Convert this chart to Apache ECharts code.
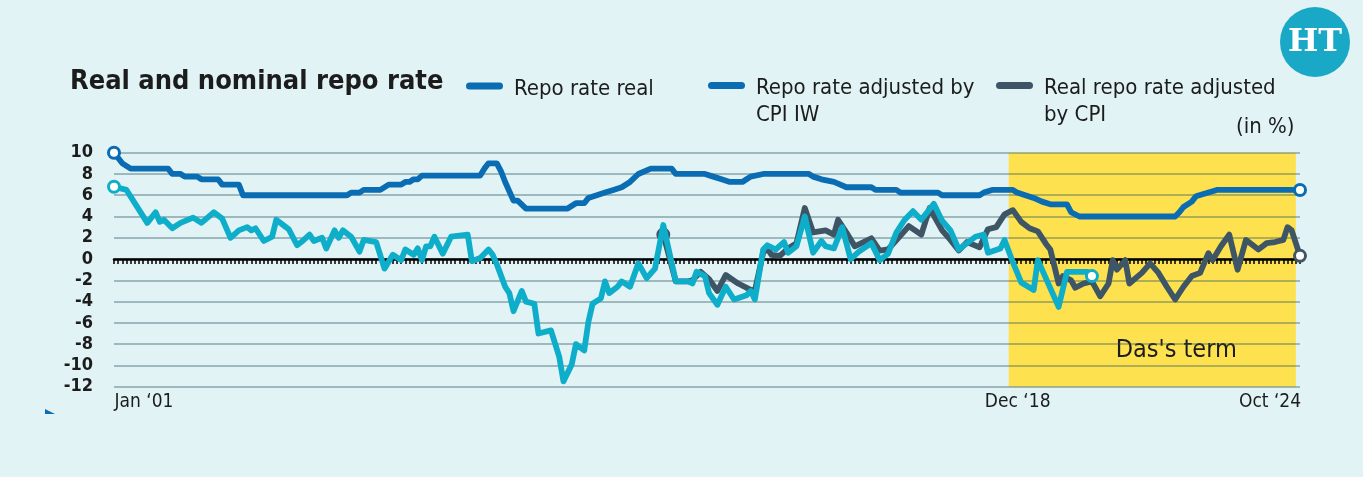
<!DOCTYPE html>
<html>
<head>
<meta charset="utf-8">
<script src="https://cdn.jsdelivr.net/npm/echarts@6/dist/echarts.min.js"></script>
<style>
html,body{margin:0;padding:0;background:#e1f3f5;}
#c{width:1363px;height:477px;}
</style>
</head>
<body>
<div id="c"></div>
<script>
// ---------- DATA ----------
const seriesNames = ['Repo rate real', 'Repo rate adjusted by\nCPI IW', 'Real repo rate adjusted\nby CPI'];

// Nominal repo rate (%), vertices
const repoRate = [
  ['2001-01',10],['2001-03',9],['2001-05',8.5],['2002-02',8.5],['2002-03',8],['2002-05',8],
  ['2002-06',7.75],['2002-09',7.75],['2002-10',7.5],['2003-02',7.5],['2003-03',7],['2003-07',7],
  ['2003-08',6],['2005-09',6],['2005-10',6.25],['2005-12',6.25],['2006-01',6.5],['2006-05',6.5],
  ['2006-07',7],['2006-10',7],['2006-11',7.25],['2006-12',7.25],['2007-01',7.5],['2007-02',7.5],
  ['2007-03',7.85],['2008-05',7.85],['2008-06',8.5],['2008-07',9],['2008-09',9],['2008-10',8.25],
  ['2008-11',7.25],['2009-01',5.5],['2009-02',5.5],['2009-04',4.75],['2010-02',4.75],['2010-04',5.25],
  ['2010-06',5.25],['2010-07',5.75],['2010-09',6],['2010-11',6.25],['2011-01',6.5],['2011-03',6.75],
  ['2011-05',7.25],['2011-07',8],['2011-10',8.5],['2012-03',8.5],['2012-04',8],['2012-11',8],
  ['2013-01',7.75],['2013-03',7.5],['2013-05',7.25],['2013-08',7.25],['2013-09',7.5],['2013-10',7.75],
  ['2014-01',8],['2014-12',8],['2015-01',7.75],['2015-03',7.5],['2015-06',7.25],['2015-09',6.75],
  ['2016-03',6.75],['2016-04',6.5],['2016-09',6.5],['2016-10',6.25],['2017-07',6.25],['2017-08',6],
  ['2018-05',6],['2018-06',6.25],['2018-08',6.5],['2019-01',6.5],['2019-02',6.25],['2019-04',6],
  ['2019-06',5.75],['2019-08',5.4],['2019-10',5.15],['2020-02',5.15],['2020-03',4.4],['2020-05',4],
  ['2022-04',4],['2022-05',4.4],['2022-06',4.9],['2022-08',5.4],['2022-09',5.9],['2022-12',6.25],
  ['2023-02',6.5],['2024-10',6.5]
];

// Repo rate adjusted by CPI-IW (%)
const realCpiIw = [
  ['2001-01',6.8],['2001-04',6.5],['2001-09',3.4],['2001-11',4.4],['2001-12',3.5],['2002-01',3.7],
  ['2002-03',2.9],['2002-05',3.4],['2002-08',3.9],['2002-10',3.4],['2003-01',4.4],['2003-03',3.8],
  ['2003-05',2.0],['2003-07',2.7],['2003-09',3.0],['2003-10',2.7],['2003-11',2.9],['2004-01',1.7],
  ['2004-03',2.1],['2004-04',3.7],['2004-06',3.1],['2004-07',2.8],['2004-09',1.3],['2004-10',1.6],
  ['2004-12',2.3],['2005-01',1.7],['2005-03',2.0],['2005-04',1.0],['2005-06',2.7],['2005-07',2.0],
  ['2005-08',2.7],['2005-10',2.1],['2005-12',0.7],['2006-01',1.8],['2006-04',1.6],['2006-06',-0.9],
  ['2006-08',0.4],['2006-10',-0.1],['2006-11',0.9],['2007-01',0.4],['2007-02',1.0],['2007-03',-0.1],
  ['2007-04',1.2],['2007-05',1.2],['2007-06',2.1],['2007-08',0.5],['2007-10',2.1],['2008-02',2.3],
  ['2008-03',-0.2],['2008-05',0.1],['2008-07',0.9],['2008-08',0.4],['2008-09',-0.5],['2008-11',-2.6],
  ['2008-12',-3.2],['2009-01',-4.9],['2009-03',-3.0],['2009-04',-4.0],['2009-06',-4.2],['2009-07',-7.0],
  ['2009-10',-6.7],['2009-12',-9.2],['2010-01',-11.5],['2010-03',-9.9],['2010-04',-8.0],['2010-06',-8.6],
  ['2010-07',-5.9],['2010-08',-4.2],['2010-10',-3.7],['2010-11',-2.1],['2010-12',-3.2],['2011-02',-2.6],
  ['2011-03',-2.1],['2011-05',-2.6],['2011-06',-1.5],['2011-07',-0.4],['2011-09',-1.8],['2011-11',-0.9],
  ['2012-01',3.2],['2012-04',-2.1],['2012-07',-2.1],['2012-08',-2.3],['2012-09',-1.2],['2012-11',-1.6],
  ['2012-12',-3.2],['2013-02',-4.3],['2013-04',-2.6],['2013-06',-3.8],['2013-09',-3.4],['2013-10',-3.0],
  ['2013-11',-3.8],['2014-01',0.9],['2014-02',1.3],['2014-04',0.9],['2014-06',1.6],['2014-07',0.6],
  ['2014-09',1.2],['2014-11',4.0],['2015-01',0.6],['2015-03',1.7],['2015-04',1.2],['2015-06',1.0],
  ['2015-08',3.0],['2015-10',0.0],['2015-12',0.7],['2016-03',1.5],['2016-05',-0.1],['2016-07',0.5],
  ['2016-09',2.5],['2016-11',3.7],['2017-01',4.5],['2017-03',3.7],['2017-06',5.2],['2017-08',3.6],
  ['2017-10',2.7],['2017-12',0.9],['2018-04',2.1],['2018-06',2.3],['2018-07',0.6],['2018-10',1.0],
  ['2018-11',1.8],['2019-01',-0.3],['2019-03',-2.2],['2019-06',-2.9],['2019-07',-0.1],['2019-12',-4.5],
  ['2020-02',-1.2],['2020-07',-1.2],['2020-08',-1.6]
];

// Real repo rate adjusted by CPI (%)
const realCpi = [
  ['2012-01',2.3],['2012-04',-2.1],['2012-07',-2.1],['2012-08',-2.0],['2012-10',-1.2],['2012-12',-1.9],
  ['2013-02',-3.0],['2013-04',-1.5],['2013-07',-2.3],['2013-10',-2.9],['2013-11',-3.0],['2014-01',0.6],
  ['2014-02',1.0],['2014-03',0.4],['2014-05',0.3],['2014-07',1.0],['2014-09',1.5],['2014-11',4.8],
  ['2015-01',2.5],['2015-04',2.7],['2015-06',2.3],['2015-07',3.7],['2015-09',2.5],['2015-11',1.2],
  ['2016-03',1.95],['2016-05',0.8],['2016-07',0.9],['2016-10',2.2],['2016-12',3.1],['2017-03',2.3],
  ['2017-05',4.8],['2017-08',2.7],['2017-10',1.8],['2017-12',0.8],['2018-02',1.6],['2018-05',1.1],
  ['2018-07',2.8],['2018-09',3.0],['2018-11',4.2],['2019-01',4.6],['2019-03',3.5],['2019-05',2.9],
  ['2019-07',2.6],['2019-09',1.4],['2019-10',0.9],['2019-11',-0.7],['2019-12',-2.3],['2020-01',-1.6],
  ['2020-03',-2.0],['2020-04',-2.7],['2020-06',-2.3],['2020-08',-2.1],['2020-10',-3.5],['2020-12',-2.3],
  ['2021-01',-0.1],['2021-02',-1.0],['2021-04',-0.1],['2021-05',-2.3],['2021-08',-1.3],['2021-10',-0.4],
  ['2021-12',-1.3],['2022-02',-2.6],['2022-04',-3.8],['2022-06',-2.6],['2022-08',-1.6],['2022-10',-1.3],
  ['2022-12',0.55],['2023-01',-0.1],['2023-03',1.2],['2023-05',2.3],['2023-07',-1.0],['2023-09',1.8],
  ['2023-12',0.9],['2024-02',1.5],['2024-04',1.6],['2024-06',1.8],['2024-07',3.0],['2024-08',2.7],
  ['2024-10',0.3]
];

const xTickLabels = [['2001-01','Jan \u201801'],['2018-12','Dec \u201818'],['2024-10','Oct \u201824']];
const yMin = -12, yMax = 10, yStep = 2;
const dasTerm = ['2018-12', '2024-09'];
const firstMonth = [2001, 1], lastMonth = [2024, 10];

// ---------- STYLE ----------
const BLUE = '#0a6db3', CYAN = '#0eaecb', DARK = '#3e5565', YELLOW = '#fee14f', INK = '#1c1c1c';
const FONT = "'DejaVu Sans Condensed','Liberation Sans Narrow',sans-serif";

// month categories 'YYYY-MM'
const months = [];
for (let y = firstMonth[0], m = firstMonth[1]; y < lastMonth[0] || (y === lastMonth[0] && m <= lastMonth[1]); ) {
  months.push(y + '-' + String(m).padStart(2, '0'));
  m++; if (m > 12) { m = 1; y++; }
}

function withEnds(data, color) {
  return data.map((d, i) => (i === 0 || i === data.length - 1)
    ? { value: d, symbol: 'circle', symbolSize: 11, itemStyle: { color: '#fff', borderColor: color, borderWidth: 3 } }
    : d);
}

const capsule = 'path://M3.5,0 L33.5,0 A3.5,3.5 0 0 1 33.5,7 L3.5,7 A3.5,3.5 0 0 1 3.5,0 Z';
function legendAt(left, top, name, color, twoLine) {
  return {
    left: left, top: top, padding: 0, selectedMode: false, icon: capsule,
    itemWidth: 37, itemHeight: 7,
    data: [{ name: name, itemStyle: { color: color } }],
    formatter: n => '{' + (twoLine ? 'g2' : 'g1') + '| }\n' + n.split('\n').map(s => '{t|' + s + '}').join('\n'),
    textStyle: {
      fontFamily: FONT, fontSize: 22, color: INK,
      rich: {
        g1: { fontSize: 2, lineHeight: 6 },
        g2: { fontSize: 2, lineHeight: 33 },
        t: { fontFamily: FONT, fontSize: 22, lineHeight: 27, color: INK, padding: [0, 0, 0, 6] }
      }
    }
  };
}

const labelKeys = ['a', 'b', 'c'];
const labelIndex = v => xTickLabels.findIndex(d => d[0] === v);

const chart = echarts.init(document.getElementById('c'), null, { renderer: 'canvas' });
chart.setOption({
  backgroundColor: '#e1f3f5',
  animation: false,
  title: {
    text: 'Real and nominal repo rate', left: 70, top: 68, padding: 0,
    textStyle: { fontFamily: FONT, fontSize: 27, fontWeight: 'bold', color: INK }
  },
  legend: [
    legendAt(466, 71.5, seriesNames[0], BLUE, false),
    legendAt(708, 57.5, seriesNames[1], BLUE, true),
    legendAt(996, 57.5, seriesNames[2], DARK, true)
  ],
  grid: { left: 114, right: 63, top: 152.7, bottom: 90.3, containLabel: false },
  xAxis: [
    {
      type: 'category', data: months, boundaryGap: false, z: 2,
      axisLine: { show: false, onZero: false }, axisTick: { show: false }, splitLine: { show: false },
      axisLabel: {
        interval: (idx, v) => labelIndex(v) >= 0,
        margin: 6, fontFamily: FONT, fontSize: 19, color: INK,
        formatter: v => {
          const i = labelIndex(v);
          return i < 0 ? '' : '{' + labelKeys[i] + '|' + xTickLabels[i][1] + '}';
        },
        rich: {
          a: { fontFamily: FONT, fontSize: 19, color: INK, padding: [0, 0, 0, 60] },
          b: { fontFamily: FONT, fontSize: 19, color: INK, padding: [0, 0, 0, 18] },
          c: { fontFamily: FONT, fontSize: 19, color: INK, padding: [0, 60, 0, 0] }
        }
      }
    },
    {
      type: 'category', data: months, boundaryGap: false, position: 'bottom', z: 2,
      axisLine: { show: true, onZero: true, lineStyle: { color: '#000', width: 2.5 } },
      axisTick: { show: true, interval: 0, length: 5, lineStyle: { color: '#000', width: 1.5 } },
      axisLabel: { show: false }, splitLine: { show: false }
    }
  ],
  yAxis: {
    type: 'value', min: yMin, max: yMax, interval: yStep, z: 2,
    axisLine: { show: false }, axisTick: { show: false },
    axisLabel: { margin: 21, fontFamily: FONT, fontSize: 18, fontWeight: 'bold', color: INK },
    splitLine: { show: true, lineStyle: { color: 'rgba(40,82,94,0.36)', width: 2 } }
  },
  graphic: [
    { type: 'text', left: 1236, top: 116, style: { text: '(in %)', fontFamily: FONT, fontSize: 22, fill: INK } },
    { type: 'circle', shape: { cx: 1315, cy: 42, r: 35 }, style: { fill: '#19a9c7' } },
    { type: 'text', x: 1315, y: 43, style: { text: 'HT', fontFamily: "'DejaVu Serif',serif", fontWeight: 'bold', fontSize: 32, fill: '#fff', align: 'center', verticalAlign: 'middle' } },
    { type: 'polygon', shape: { points: [[45, 409], [55, 414], [45, 414]] }, style: { fill: BLUE } }
  ],
  series: [
    {
      name: 'band', type: 'line', data: [], z: 1, silent: true,
      markArea: {
        silent: true,
        itemStyle: { color: YELLOW },
        label: { show: true, position: 'insideBottom', distance: 24, offset: [24, 0],
          fontFamily: FONT, fontSize: 25, color: INK },
        data: [[{ name: 'Das\'s term', xAxis: dasTerm[0] }, { xAxis: dasTerm[1] }]]
      }
    },
    {
      name: seriesNames[0], type: 'line', z: 5, clip: false, symbol: 'none', showSymbol: true, showAllSymbol: true,
      color: BLUE, lineStyle: { color: BLUE, width: 5.8, join: 'round' }, data: withEnds(repoRate, BLUE)
    },
    {
      name: seriesNames[2], type: 'line', z: 3, clip: false, symbol: 'none', showSymbol: true, showAllSymbol: true,
      color: DARK, lineStyle: { color: DARK, width: 5.8, join: 'round' }, data: withEnds(realCpi, DARK)
    },
    {
      name: seriesNames[1], type: 'line', z: 4, clip: false, symbol: 'none', showSymbol: true, showAllSymbol: true,
      color: CYAN, lineStyle: { color: CYAN, width: 5.8, join: 'round' }, data: withEnds(realCpiIw, CYAN)
    }
  ]
});
</script>
</body>
</html>
